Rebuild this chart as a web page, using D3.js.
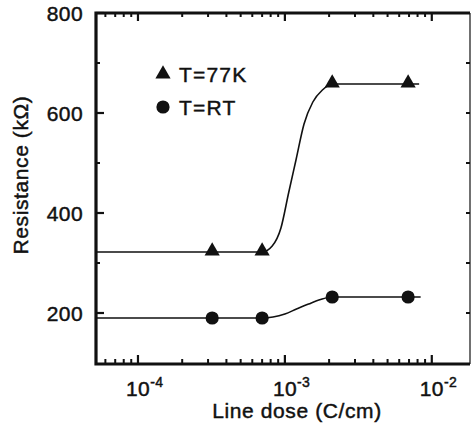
<!DOCTYPE html>
<html>
<head>
<meta charset="utf-8">
<script src="https://cdn.jsdelivr.net/npm/d3@7.9.0/dist/d3.min.js"></script>
<style>
  body { margin: 0; background: #fff; }
  svg { display: block; font-family: "Liberation Sans", Arial, sans-serif; }
  text { fill: #111; stroke: #111; stroke-width: 0.45px; }
</style>
</head>
<body>
<svg id="chart" width="473" height="429"></svg>
<script>
// measured points
const dose = [3.2e-4, 7.0e-4, 2.1e-3, 6.9e-3];
const r77K = [322, 322, 658, 658];
const rRT = [190, 190, 232, 232];

// fitted curves
const fitDose77 = [5.2e-5, 7.0e-4, 8.2e-4, 9.4e-4, 1.06e-3, 1.19e-3, 1.35e-3, 1.55e-3, 1.8e-3, 2.12e-3, 8.2e-3];
const fit77 = [322, 322, 334, 370, 440, 506, 578, 622, 646, 658, 658];
const fitDoseRT = [5.2e-5, 7.0e-4, 8.3e-4, 1.0e-3, 1.2e-3, 1.45e-3, 1.75e-3, 2.1e-3, 8.4e-3];
const fitRT = [190, 190, 192, 198, 208, 218, 227, 232, 232];

// axis ticks
const xMajor = [1e-4, 1e-3, 1e-2];
const xMajorExp = ['-4', '-3', '-2'];
const yMajor = [200, 400, 600, 800];
const yMinor = [300, 500, 700];

const svg = d3.select('#chart');
const pL = 96, pR = 470, pT = 13, pB = 363;

const x = d3.scaleLog().domain([5.18e-5, 1.82e-2]).range([pL, pR]);
const y = d3.scaleLinear().domain([100, 800]).range([pB, pT]);

// minor ticks on log axis: 2..9 x each decade inside the domain
const xMinor = [];
[1e-5, 1e-4, 1e-3, 1e-2].forEach(d => {
  for (let k = 2; k <= 9; k++) {
    const v = d * k;
    if (v > x.domain()[0] && v < x.domain()[1]) xMinor.push(v);
  }
});

const ink = '#111';

// ticks (inward)
const g = svg.append('g').attr('stroke', ink);
xMajor.forEach(v => {
  g.append('line').attr('x1', x(v)).attr('x2', x(v)).attr('y1', pB).attr('y2', pB - 8).attr('stroke-width', 2.2);
  g.append('line').attr('x1', x(v)).attr('x2', x(v)).attr('y1', pT).attr('y2', pT + 8).attr('stroke-width', 2.2);
});
xMinor.forEach(v => {
  g.append('line').attr('x1', x(v)).attr('x2', x(v)).attr('y1', pB).attr('y2', pB - 4).attr('stroke-width', 2);
  g.append('line').attr('x1', x(v)).attr('x2', x(v)).attr('y1', pT).attr('y2', pT + 4).attr('stroke-width', 2);
});
yMajor.forEach(v => {
  g.append('line').attr('x1', pL).attr('x2', pL + 8).attr('y1', y(v)).attr('y2', y(v)).attr('stroke-width', 2.2);
  g.append('line').attr('x1', pR).attr('x2', pR - 4).attr('y1', y(v)).attr('y2', y(v)).attr('stroke-width', 2);
});
yMinor.forEach(v => {
  g.append('line').attr('x1', pL).attr('x2', pL + 4).attr('y1', y(v)).attr('y2', y(v)).attr('stroke-width', 2);
  g.append('line').attr('x1', pR).attr('x2', pR - 4).attr('y1', y(v)).attr('y2', y(v)).attr('stroke-width', 2);
});

// frame: thick left/top/bottom, thin right
svg.append('path')
  .attr('d', `M${pR},${pT} L${pL},${pT} L${pL},${pB + 1} L${pR},${pB + 1}`)
  .attr('fill', 'none').attr('stroke', ink).attr('stroke-width', 3.2);
svg.append('line').attr('x1', pR).attr('x2', pR).attr('y1', pT).attr('y2', pB + 1)
  .attr('stroke', ink).attr('stroke-width', 1.2);

// tick labels
yMajor.forEach(v => {
  svg.append('text').attr('x', 83).attr('y', y(v)).attr('dy', '0.36em')
    .attr('text-anchor', 'end').attr('font-size', 21).attr('letter-spacing', 0.4).text(v);
});
xMajor.forEach((v, i) => {
  const t = svg.append('text').attr('x', x(v) - 12).attr('y', 396)
    .attr('font-size', 21).attr('letter-spacing', 0.4);
  t.append('tspan').text('10');
  t.append('tspan').attr('font-size', 14).attr('dy', -9).text(xMajorExp[i]);
});

// axis titles
svg.append('text').attr('x', 297).attr('y', 418).attr('text-anchor', 'middle')
  .attr('font-size', 21).attr('letter-spacing', 0.6).text('Line dose (C/cm)');
svg.append('text').attr('transform', 'translate(28,175) rotate(-90)').attr('text-anchor', 'middle')
  .attr('font-size', 21).attr('letter-spacing', 0.6).text('Resistance (kΩ)');

// fitted lines
const line = d3.line().x(d => x(d[0])).y(d => y(d[1])).curve(d3.curveMonotoneX);
svg.append('path').datum(d3.zip(fitDose77, fit77)).attr('d', line)
  .attr('fill', 'none').attr('stroke', ink).attr('stroke-width', 1.6);
svg.append('path').datum(d3.zip(fitDoseRT, fitRT)).attr('d', line)
  .attr('fill', 'none').attr('stroke', ink).attr('stroke-width', 1.6);

// markers
const tri = d3.symbol().type(d3.symbolTriangle).size(100);
dose.forEach((d, i) => {
  svg.append('path').attr('d', tri).attr('transform', `translate(${x(d)},${y(r77K[i]) - 1})`).attr('fill', ink);
  svg.append('circle').attr('cx', x(d)).attr('cy', y(rRT[i])).attr('r', 6.6).attr('fill', ink);
});

// legend
svg.append('path').attr('d', tri).attr('transform', 'translate(163,74)').attr('fill', ink);
svg.append('text').attr('x', 179).attr('y', 82).attr('font-size', 21).attr('letter-spacing', 1.2).text('T=77K');
svg.append('circle').attr('cx', 163).attr('cy', 107).attr('r', 6.6).attr('fill', ink);
svg.append('text').attr('x', 179).attr('y', 115).attr('font-size', 21).attr('letter-spacing', 1.2).text('T=RT');
</script>
</body>
</html>
